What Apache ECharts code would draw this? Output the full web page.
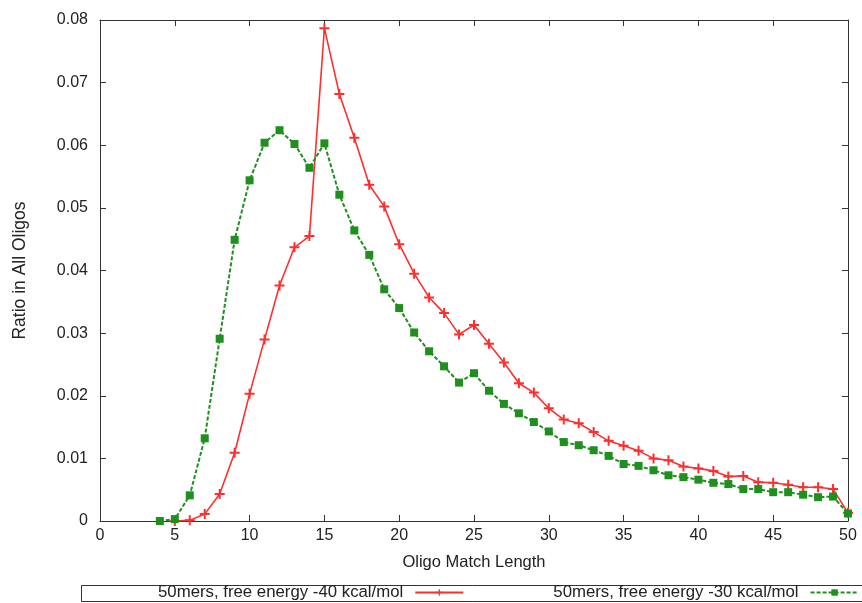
<!DOCTYPE html>
<html>
<head>
<meta charset="utf-8">
<script src="https://cdn.jsdelivr.net/npm/echarts@6/dist/echarts.min.js"></script>
<style>html,body{margin:0;padding:0;background:#fff}#c{width:862px;height:603px}</style>
</head>
<body>
<div id="c"></div>
<script>
// Data
var redLengths = [5,6,7,8,9,10,11,12,13,14,15,16,17,18,19,20,21,22,23,24,25,26,27,28,29,30,31,32,33,34,35,36,37,38,39,40,41,42,43,44,45,46,47,48,49,50];
var redValues = [0,0.0001,0.0011,0.0043,0.0109,0.0203,0.0290,0.0376,0.0437,0.0455,0.0787,0.0682,0.0612,0.0537,0.0502,0.0442,0.0395,0.0357,0.0332,0.0298,0.0313,0.0283,0.0253,0.0220,0.0205,0.0180,0.0162,0.0156,0.0142,0.0128,0.0120,0.0112,0.0100,0.0097,0.0087,0.0084,0.0080,0.0071,0.0072,0.0062,0.0061,0.0058,0.0054,0.0054,0.0051,0.0013];
var greenLengths = [4,5,6,7,8,9,10,11,12,13,14,15,16,17,18,19,20,21,22,23,24,25,26,27,28,29,30,31,32,33,34,35,36,37,38,39,40,41,42,43,44,45,46,47,48,49,50];
var greenValues = [0,0.0003,0.0041,0.0132,0.0291,0.0449,0.0544,0.0604,0.0624,0.0602,0.0564,0.0603,0.0521,0.0464,0.0425,0.0370,0.0340,0.0301,0.0271,0.0247,0.0221,0.0236,0.0208,0.0187,0.0172,0.0158,0.0143,0.0126,0.0121,0.0113,0.0104,0.0091,0.0088,0.0081,0.0073,0.0070,0.0066,0.0061,0.0059,0.0051,0.0051,0.0046,0.0046,0.0042,0.0038,0.0039,0.0012];
var seriesNames = ['50mers, free energy -40 kcal/mol', '50mers, free energy -30 kcal/mol'];
var xTitle = 'Oligo Match Length';
var yTitle = 'Ratio in All Oligos';

function pairs(xs, ys){ return xs.map(function(x,i){ return [x, ys[i]]; }); }

var FONT = '"Liberation Sans", Arial, sans-serif';
var TXT = '#222';
var AX = '#333';
var RED = '#ff2e2e';
var GREEN = '#1f8f1f';
var PLUS = 'path://M4,0 L6,0 L6,4 L10,4 L10,6 L6,6 L6,10 L4,10 L4,6 L0,6 L0,4 L4,4 Z';

function axisBase(){
  return {
    axisLine: {show: true, onZero: false, lineStyle: {color: AX, width: 1}},
    axisTick: {show: true, inside: true, length: 6, lineStyle: {color: AX}},
    splitLine: {show: false}
  };
}

var chart = echarts.init(document.getElementById('c'), null, {renderer: 'canvas'});
chart.setOption({
  animation: false,
  backgroundColor: '#fff',
  textStyle: {fontFamily: FONT},
  grid: {left: 100, right: 14, top: 20, bottom: 82, containLabel: false},
  xAxis: [
    Object.assign(axisBase(), {
      type: 'value', min: 0, max: 50, interval: 5, position: 'bottom',
      name: xTitle, nameLocation: 'middle', nameGap: 33,
      nameTextStyle: {color: TXT, fontSize: 16.5, fontFamily: FONT},
      axisLabel: {color: TXT, fontSize: 16, fontFamily: FONT, margin: 7}
    }),
    Object.assign(axisBase(), {
      type: 'value', min: 0, max: 50, interval: 5, position: 'top',
      axisLabel: {show: false}
    })
  ],
  yAxis: [
    Object.assign(axisBase(), {
      type: 'value', min: 0, max: 0.08, interval: 0.01, position: 'left',
      name: yTitle, nameLocation: 'middle', nameGap: 71,
      nameTextStyle: {color: TXT, fontSize: 17.5, fontFamily: FONT},
      axisLabel: {color: TXT, fontSize: 16, fontFamily: FONT, margin: 12}
    }),
    Object.assign(axisBase(), {
      type: 'value', min: 0, max: 0.08, interval: 0.01, position: 'right',
      axisLabel: {show: false}
    })
  ],
  legend: {
    left: 158, top: 584, padding: 0,
    align: 'right', orient: 'horizontal',
    itemWidth: 48, itemHeight: 8, itemGap: 89,
    formatter: '{a|{name}}',
    textStyle: {color: TXT, fontSize: 16.8, fontFamily: FONT,
      rich: {a: {color: TXT, fontSize: 16.8, fontFamily: FONT, padding: [0, 7, 0, 0]}}},
    data: seriesNames
  },
  graphic: [
    {type: 'rect', shape: {x: 81.5, y: 585.5, width: 800, height: 16},
     style: {fill: 'none', stroke: AX, lineWidth: 1}, silent: true, z: -1}
  ],
  series: [
    {
      name: seriesNames[0], type: 'line', xAxisIndex: 0, yAxisIndex: 0,
      data: pairs(redLengths, redValues),
      symbol: PLUS, symbolSize: 10, showAllSymbol: true,
      lineStyle: {color: RED, width: 1.6},
      itemStyle: {color: RED},
      z: 2
    },
    {
      name: seriesNames[1], type: 'line', xAxisIndex: 0, yAxisIndex: 0,
      data: pairs(greenLengths, greenValues),
      symbol: 'rect', symbolSize: 8, showAllSymbol: true,
      lineStyle: {color: GREEN, width: 2, type: [4, 2]},
      itemStyle: {color: GREEN},
      z: 3
    }
  ]
});
</script>
</body>
</html>
